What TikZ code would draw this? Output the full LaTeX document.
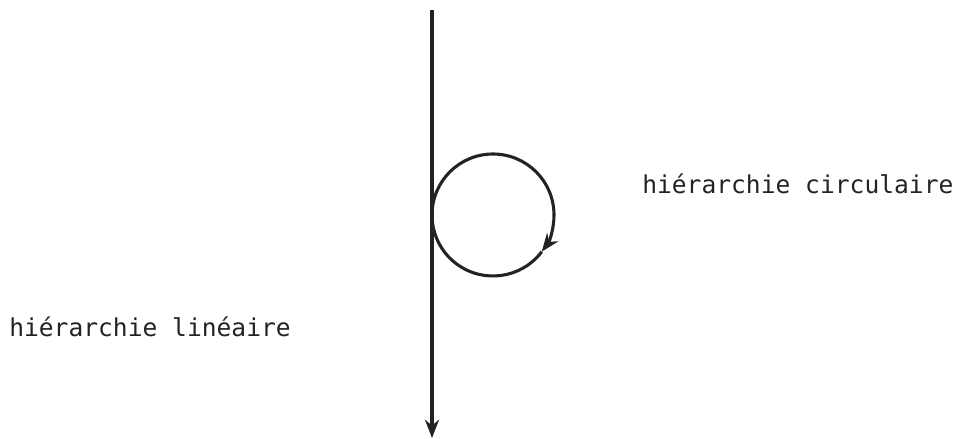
\documentclass[tikz,border=0pt]{standalone}
\usepackage{fontspec}
\setmonofont{DejaVu Sans Mono}
\usepackage{tikz}
\usetikzlibrary{arrows.meta,positioning}
\definecolor{ink}{RGB}{35,35,35}

\begin{document}
\begin{tikzpicture}[
  x=0.025cm,y=-0.025cm,
  label/.style={anchor=west,inner sep=0pt,font=\ttfamily\fontsize{17.5}{20}\selectfont,text=ink},
  arr/.style={-{Stealth[length=13pt,width=10pt]},line width=2.2pt,draw=ink}
]
  \useasboundingbox (0,0) rectangle (954,439);
  \coordinate (top) at (432,10);
  \coordinate (bot) at (432,438);
  \coordinate (ctr) at (493,215);
  \node[label] (circ) at (642,184) {hiérarchie circulaire};
  \node[label] (lin) at (9,327) {hiérarchie linéaire};
  \draw[arr] (top) -- (bot);
  \draw[arr] ([xshift=-61*0.025cm]ctr) arc[start angle=180,end angle=-37,radius=61*0.025cm];
  \draw[line width=2.2pt,draw=ink] (ctr) ++(-37:61*0.025cm) arc[start angle=-37,end angle=-180,radius=61*0.025cm];
\end{tikzpicture}
\end{document}
